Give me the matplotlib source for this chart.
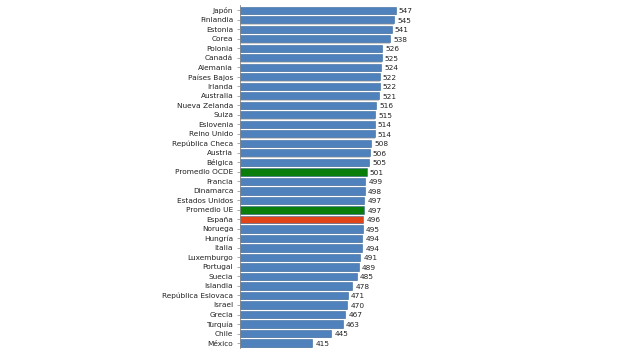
import matplotlib.pyplot as plt

paises = ['Japón', 'Finlandia', 'Estonia', 'Corea', 'Polonia', 'Canadá', 'Alemania',
          'Países Bajos', 'Irlanda', 'Australia', 'Nueva Zelanda', 'Suiza', 'Eslovenia',
          'Reino Unido', 'República Checa', 'Austria', 'Bélgica', 'Promedio OCDE',
          'Francia', 'Dinamarca', 'Estados Unidos', 'Promedio UE', 'España', 'Noruega',
          'Hungría', 'Italia', 'Luxemburgo', 'Portugal', 'Suecia', 'Islandia',
          'República Eslovaca', 'Israel', 'Grecia', 'Turquía', 'Chile', 'México']
puntos = [547, 545, 541, 538, 526, 525, 524, 522, 522, 521, 516, 515, 514, 514,
          508, 506, 505, 501, 499, 498, 497, 497, 496, 495, 494, 494, 491, 489,
          485, 478, 471, 470, 467, 463, 445, 415]

colores = []
for p in paises:
    if p.startswith('Promedio'):
        colores.append('#0a7d0a')
    elif p == 'España':
        colores.append('#e2441a')
    else:
        colores.append('#4f81bd')

fig = plt.figure(figsize=(6.27, 3.52), dpi=100)
ax = fig.add_axes([0.383, 0.012, 0.301, 0.975])

y = list(range(len(paises)))
# sombra
ax.barh([v + 0.12 for v in y], puntos, height=0.76, color='#cfcfcf', zorder=1)
ax.barh(y, puntos, height=0.76, color=colores, edgecolor='#3a6a9e', linewidth=0.4, zorder=2)
for yi, v in zip(y, puntos):
    ax.text(v + 5, yi + 0.1, str(v), va='center', ha='left', fontsize=5.3, color='#222222')

ax.set_xlim(300, 600)
ax.set_ylim(len(paises) - 0.5, -0.6)
ax.set_yticks(y)
ax.set_yticklabels(paises, fontsize=5.3, color='#222222')
ax.tick_params(axis='y', length=2, width=0.5, color='#888888', pad=3)
ax.set_xticks([])
for s in ['top', 'right', 'bottom']:
    ax.spines[s].set_visible(False)
ax.spines['left'].set_color('#888888')
ax.spines['left'].set_linewidth(0.6)

fig.savefig('out.png', dpi=100)
